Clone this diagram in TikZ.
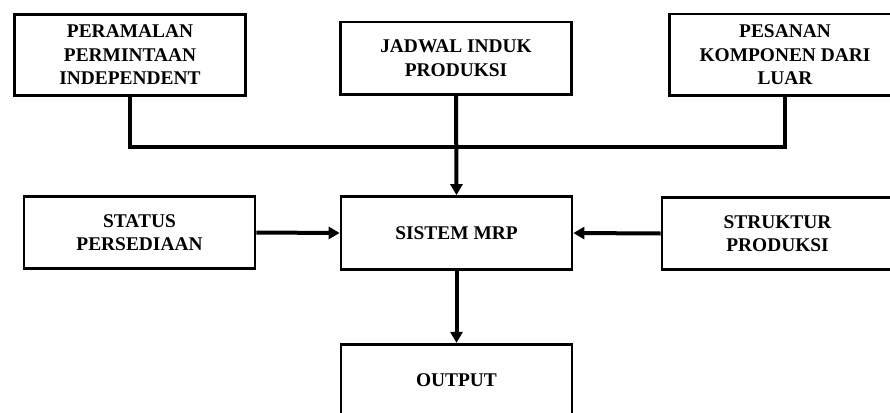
\documentclass[tikz,border=0pt]{standalone}
\usepackage{fontspec}
\setmainfont{Liberation Serif}
\usetikzlibrary{arrows.meta}

\tikzset{
  block/.style={draw=black, line width=2.7pt, fill=white, rectangle,
    inner sep=0pt, align=center, minimum width=231pt,
    font=\bfseries\fontsize{19.4pt}{23.5pt}\selectfont},
  flow/.style={line width=4pt, -{Triangle[width=12pt,length=11pt]}},
  bus/.style={line width=4pt}
}

\begin{document}
\begin{tikzpicture}[x=1pt, y=-1pt]
  \path[use as bounding box] (0,0) rectangle (890,412);
  \clip (0,0) rectangle (890,412);

  % input blocks on the top row
  \node[block, minimum height=81pt] (peramalan) at (130,54.7)
    {PERAMALAN\\PERMINTAAN\\INDEPENDENT};
  \node[block, minimum height=72.5pt] (jadwal) at (456,58.3)
    {JADWAL INDUK\\PRODUKSI};
  \node[block, minimum height=81.5pt] (pesanan) at (785,54.8)
    {PESANAN\\KOMPONEN DARI\\LUAR};

  % middle row
  \node[block, minimum height=72.5pt] (status) at (139.5,232.5)
    {STATUS\\PERSEDIAAN};
  \node[block, minimum height=73pt] (sistem) at (456.5,233)
    {SISTEM MRP};
  \node[block, minimum height=72.5pt] (struktur) at (777.5,233.5)
    {STRUKTUR\\PRODUKSI};

  % result
  \node[block, minimum height=72.5pt] (output) at (456.5,380.5)
    {OUTPUT};

  % collecting bus of the top row
  \coordinate (busmid) at (456.5,146.5);
  \draw[bus] (peramalan.south) |- (busmid) -| (pesanan.south);

  % arrows into and out of the MRP system
  \draw[flow] (jadwal.south) -- (sistem.north);
  \draw[flow] (status.east) -- (sistem.west);
  \draw[flow] (struktur.west) -- (sistem.east);
  \draw[flow] (sistem.south) -- (output.north);
\end{tikzpicture}
\end{document}
